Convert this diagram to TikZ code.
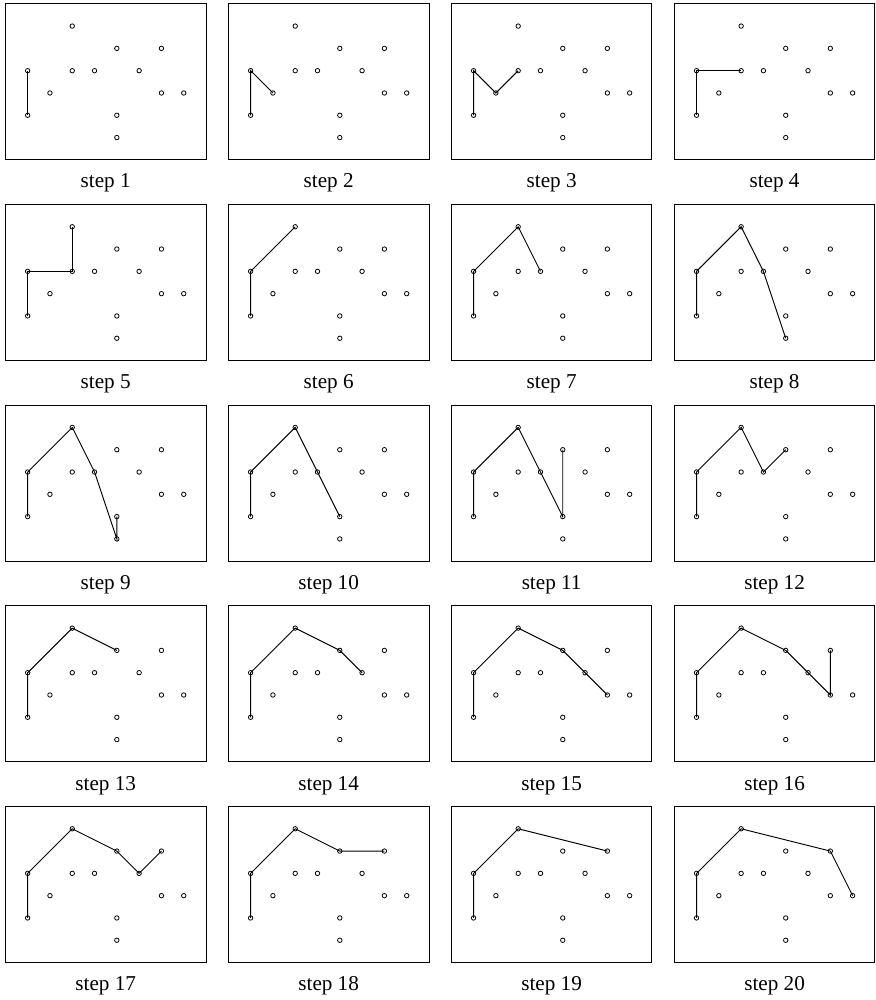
\documentclass[tikz,border=0pt]{standalone}
\usepackage{fontspec}
\setmainfont{Liberation Serif}
\usetikzlibrary{positioning}

\tikzset{
  panel/.style={draw, line width=0.6pt, minimum width=4.5cm, minimum height=3.5cm, inner sep=0pt},
  pt/.style={line width=0.5pt},
  hull/.style={line width=0.6pt},
  caption/.style={anchor=base, font=\fontsize{13.5}{16}\selectfont}
}

\begin{document}
\begin{tikzpicture}[x=0.5cm,y=0.5cm]
\useasboundingbox (-1.24,1.17) rectangle (38.04,-43.68);

% one panel per step: number / column / row / hull so far
\foreach \n/\c/\r/\hull in {
  1/0/0/{(p04)--(p02)},
  2/1/0/{(p04)--(p02)--(p13)},
  3/2/0/{(p04)--(p02)--(p13)--(p22)},
  4/3/0/{(p04)--(p02)--(p22)},
  5/0/1/{(p04)--(p02)--(p22)--(p20)},
  6/1/1/{(p04)--(p02)--(p20)},
  7/2/1/{(p04)--(p02)--(p20)--(p32)},
  8/3/1/{(p04)--(p02)--(p20)--(p32)--(p45)},
  9/0/2/{(p04)--(p02)--(p20)--(p32)--(p45)--(p44)},
  10/1/2/{(p04)--(p02)--(p20)--(p32)--(p44)},
  11/2/2/{(p04)--(p02)--(p20)--(p32)--(p44)--(p41)},
  12/3/2/{(p04)--(p02)--(p20)--(p32)--(p41)},
  13/0/3/{(p04)--(p02)--(p20)--(p41)},
  14/1/3/{(p04)--(p02)--(p20)--(p41)--(p52)},
  15/2/3/{(p04)--(p02)--(p20)--(p41)--(p52)--(p63)},
  16/3/3/{(p04)--(p02)--(p20)--(p41)--(p52)--(p63)--(p61)},
  17/0/4/{(p04)--(p02)--(p20)--(p41)--(p52)--(p61)},
  18/1/4/{(p04)--(p02)--(p20)--(p41)--(p61)},
  19/2/4/{(p04)--(p02)--(p20)--(p61)},
  20/3/4/{(p04)--(p02)--(p20)--(p61)--(p73)}}{
\begin{scope}[shift={(10*\c,-9*\r)}]
\node[panel] (box\n) at (3.5,-2.5) {};
\node[caption] (cap\n) at ([yshift=-0.62cm]box\n.south) {step \n};
\foreach \x/\y in {2/0,4/1,6/1,0/2,2/2,3/2,5/2,1/3,6/3,7/3,0/4,4/4,4/5}
  \coordinate (p\x\y) at (\x,-\y);
\draw[hull] \hull;
\foreach \x/\y in {2/0,4/1,6/1,0/2,2/2,3/2,5/2,1/3,6/3,7/3,0/4,4/4,4/5}
  \draw[pt] (p\x\y) circle (0.1);
\end{scope}
}
\end{tikzpicture}
\end{document}
